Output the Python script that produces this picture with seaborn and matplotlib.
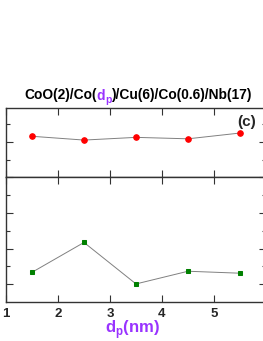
import numpy as np
import pandas as pd
import matplotlib
matplotlib.use("Agg")
import matplotlib.pyplot as plt
import seaborn as sns
from matplotlib.ticker import MultipleLocator, FixedLocator

# thickness of the Co pinned layer d_p (nm)
dp = [1.5, 2.5, 3.5, 4.5, 5.5]
# upper panel (red circles) and lower panel (green squares), arbitrary units
top_vals = [1.32, 1.11, 1.26, 1.18, 1.50]
bottom_vals = [0.67, 2.34, 0.02, 0.73, 0.62]
xticks = [1, 2, 3, 4, 5]

PURPLE = "#9933FF"

sns.set_theme(style="ticks")
plt.rcParams["font.family"] = ["Liberation Sans", "DejaVu Sans"]
plt.rcParams["mathtext.fontset"] = "custom"
plt.rcParams["mathtext.bf"] = "Liberation Sans:bold"
plt.rcParams["mathtext.rm"] = "Liberation Sans"

W, H = 263, 341
fig = plt.figure(figsize=(W / 100, H / 100), dpi=100)

left = 6 / W
width = 260 / W
ax_top = fig.add_axes([left, (H - 177) / H, width, 69 / H])
ax_bot = fig.add_axes([left, (H - 302) / H, width, 125 / H], sharex=ax_top)

df_top = pd.DataFrame({"dp": dp, "val": top_vals})
df_bot = pd.DataFrame({"dp": dp, "val": bottom_vals})

sns.lineplot(data=df_top, x="dp", y="val", ax=ax_top, color="#808080", lw=0.7,
             marker="o", markersize=4, markerfacecolor="red", markeredgecolor="red")
sns.lineplot(data=df_bot, x="dp", y="val", ax=ax_bot, color="#808080", lw=0.7,
             marker="s", markersize=3.2, markerfacecolor="green", markeredgecolor="green")

ax_top.set_ylim(-0.94, 2.89)
ax_bot.set_ylim(-0.99, 6.0)
ax_top.set_xlim(1, 6)

for ax in (ax_top, ax_bot):
    ax.set_xlabel("")
    ax.set_ylabel("")
    ax.xaxis.set_major_locator(MultipleLocator(1))
    ax.yaxis.set_major_locator(MultipleLocator(2))
    ax.yaxis.set_minor_locator(MultipleLocator(1))
    ax.tick_params(which="both", direction="in", top=True, right=True,
                   labelleft=False, color="#333333", width=0.8)
    ax.tick_params(which="major", length=5)
    ax.tick_params(which="minor", length=3)
    for s in ax.spines.values():
        s.set_color("#333333")
        s.set_linewidth(1.0)

ax_top.yaxis.set_major_locator(FixedLocator([1]))
ax_top.yaxis.set_minor_locator(FixedLocator([0, 2]))
ax_top.tick_params(labelbottom=False)

ax_bot.set_xticks(xticks)
ax_bot.set_xticklabels([str(t) for t in xticks], fontsize=9.5, fontweight="bold")
ax_bot.tick_params(axis="x", pad=4)
ax_bot.set_xlabel(r"$\mathbf{d}_\mathbf{p}$(nm)", fontsize=12, fontweight="bold",
                  color=PURPLE, labelpad=0)
ax_bot.xaxis.set_label_coords(0.5 - 3 / 260, -0.13)

ax_top.text(0.962, 0.79, "(c)", transform=ax_top.transAxes, ha="right", va="center",
            fontsize=11, fontweight="bold")

# title with a coloured d_p part: (text, colour, size, baseline shift in px)
parts = [("CoO(2)/Co(", "black", 9.9, 0), ("d", PURPLE, 9.9, 0),
         ("p", PURPLE, 7.5, -4), (")/Cu(6)/Co(0.6)/Nb(17)", "black", 9.9, 0)]
base = 99.5
fig.canvas.draw()
renderer = fig.canvas.get_renderer()
x = 24 / W
for txt, col, fs, dy in parts:
    t = fig.text(x, (H - base + dy) / H, txt, color=col, fontsize=fs,
                 fontweight="bold", ha="left", va="baseline")
    bb = t.get_window_extent(renderer)
    x = bb.x1 / W

fig.savefig("out.png", dpi=100)
